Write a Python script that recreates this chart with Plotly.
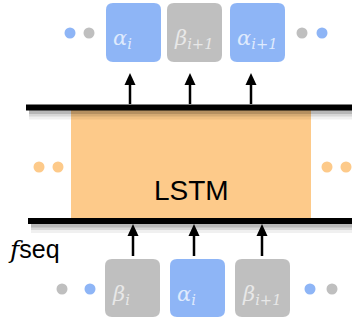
import plotly.graph_objects as go

W, H = 352, 319

# ---- content ----
top_labels = ["α|i", "β|i+1", "α|i+1"]
top_kinds = ["a", "b", "a"]
bottom_labels = ["β|i", "α|i", "β|i+1"]
bottom_kinds = ["b", "a", "b"]
center_label = "LSTM"
side_label = "seq"

colors = {"a": "#8eb5f6", "b": "#bfbfbf", "lstm": "#fdca8a"}
text_colors = {"a": "#dfeafd", "b": "#e8e8e8"}

# ---- layout geometry ----
top_box_x0 = [106, 167, 230]
top_box_y = (3, 62)
bot_box_x0 = [105, 170, 235]
bot_box_y = (259, 317)
box_w = 55
top_arrow_x = [130, 190, 251]
bot_arrow_x = [133, 194, 262]
top_dots = [(70, 33, "a"), (89, 33, "b"), (302, 33, "b"), (322, 33, "a")]
bot_dots = [(62, 289, "b"), (90, 289, "a"), (310, 289, "a"), (332, 289, "b")]
mid_dots = [39, 58, 327, 346]

fig = go.Figure()
shapes = []
annotations = []


def rrect(x0, y0, x1, y1, r, color):
    p = (f"M{x0+r},{y0} L{x1-r},{y0} Q{x1},{y0} {x1},{y0+r} "
         f"L{x1},{y1-r} Q{x1},{y1} {x1-r},{y1} L{x0+r},{y1} "
         f"Q{x0},{y1} {x0},{y1-r} L{x0},{y0+r} Q{x0},{y0} {x0+r},{y0} Z")
    return dict(type="path", path=p, fillcolor=color, line=dict(width=0), layer="above")


def arrow(x, y_tip, y_tail):
    hl, hw = 12, 5.5
    shapes.append(dict(type="line", x0=x, x1=x, y0=y_tail, y1=y_tip + hl - 1,
                       line=dict(color="black", width=2.5)))
    shapes.append(dict(type="path",
                       path=f"M{x},{y_tip} L{x+hw},{y_tip+hl} L{x-hw},{y_tip+hl} Z",
                       fillcolor="black", line=dict(width=0)))


# orange LSTM block
shapes.append(dict(type="rect", x0=71, x1=311, y0=110, y1=219,
                   fillcolor=colors["lstm"], line=dict(width=0), layer="below"))

# shadows under lines
for ly, lx0 in [(107.5, 26), (221, 28)]:
    for off, wdt, op in [(7, 10, 0.06), (5, 8, 0.10), (3.5, 6, 0.15)]:
        shapes.append(dict(type="line", x0=lx0 + 3, x1=W + 20, y0=ly + off, y1=ly + off,
                           line=dict(color=f"rgba(0,0,0,{op})", width=wdt), layer="below"))
    shapes.append(dict(type="line", x0=lx0, x1=W + 20, y0=ly, y1=ly,
                       line=dict(color="black", width=6), layer="above"))


def label_html(s):
    base, sub = s.split("|")
    return f"{base}<sub>{sub}</sub>"


for x0, lab, k in zip(top_box_x0, top_labels, top_kinds):
    shapes.append(rrect(x0, top_box_y[0], x0 + box_w, top_box_y[1], 7, colors[k]))
    annotations.append(dict(x=x0 + 5, y=top_box_y[0] + 36, xref="x", yref="y",
                            text=label_html(lab), showarrow=False, xanchor="left", yanchor="middle",
                            font=dict(family="DejaVu Serif", size=21, style="italic",
                                      color=text_colors[k])))
for x0, lab, k in zip(bot_box_x0, bottom_labels, bottom_kinds):
    shapes.append(rrect(x0, bot_box_y[0], x0 + box_w, bot_box_y[1], 7, colors[k]))
    annotations.append(dict(x=x0 + 5, y=bot_box_y[0] + 36, xref="x", yref="y",
                            text=label_html(lab), showarrow=False, xanchor="left", yanchor="middle",
                            font=dict(family="DejaVu Serif", size=21, style="italic",
                                      color=text_colors[k])))

r = 5.5
for x, y, k in top_dots + bot_dots:
    shapes.append(dict(type="circle", x0=x - r, x1=x + r, y0=y - r, y1=y + r,
                       fillcolor=colors[k], line=dict(width=0)))
for x in mid_dots:
    shapes.append(dict(type="circle", x0=x - r, x1=x + r, y0=167 - r, y1=167 + r,
                       fillcolor=colors["lstm"], line=dict(width=0)))

for x in top_arrow_x:
    arrow(x, 73, 104)
for x in bot_arrow_x:
    arrow(x, 224, 256)

annotations.append(dict(x=191, y=190, xref="x", yref="y", text=center_label, showarrow=False,
                        font=dict(family="Liberation Sans", size=28, color="black")))
annotations.append(dict(x=6, y=249, xref="x", yref="y",
                        text=f"<span style='font-family:DejaVu Serif'><i>f</i></span>{side_label}",
                        showarrow=False, xanchor="left", yanchor="middle",
                        font=dict(family="Liberation Sans", size=25, color="black")))

fig.update_layout(
    width=W, height=H, margin=dict(l=0, r=0, t=0, b=0),
    paper_bgcolor="white", plot_bgcolor="white",
    xaxis=dict(range=[0, W], visible=False, fixedrange=True),
    yaxis=dict(range=[H, 0], visible=False, fixedrange=True),
    shapes=shapes, annotations=annotations, showlegend=False,
)
fig.write_html("out.html", config={"displayModeBar": False},
               post_script="document.body.style.margin='0';document.body.style.overflow='hidden';")
